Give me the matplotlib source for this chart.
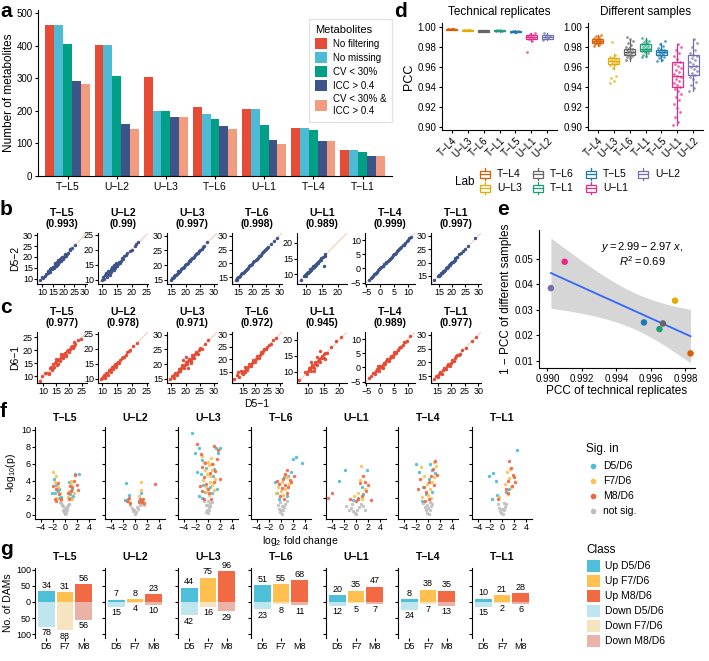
import numpy as np
import matplotlib
matplotlib.use("Agg")
import matplotlib.pyplot as plt
from matplotlib.patches import Rectangle, Patch
from matplotlib.lines import Line2D

plt.rcParams['font.family'] = ['Liberation Sans', 'DejaVu Sans']
plt.rcParams['mathtext.fontset'] = 'custom'
plt.rcParams['mathtext.rm'] = 'Liberation Sans'
plt.rcParams['mathtext.it'] = 'Liberation Sans:italic'
plt.rcParams['mathtext.bf'] = 'Liberation Sans:bold'
plt.rcParams['axes.unicode_minus'] = True

# ---------------- DATA ----------------
LABS = ['T−L5', 'U−L2', 'U−L3', 'T−L6', 'U−L1', 'T−L4', 'T−L1']

# panel a
A_NOFILTER = [462, 402, 304, 212, 204, 148, 79]
A_NOMISSING = [462, 402, 198, 190, 204, 147, 79]
A_CV30 = [405, 308, 198, 175, 157, 140, 73]
A_ICC = [292, 160, 180, 153, 110, 108, 60]
A_BOTH = [281, 144, 180, 145, 99, 108, 60]
A_LEGEND = ['No filtering', 'No missing', 'CV < 30%', 'ICC > 0.4', 'CV < 30% &\nICC > 0.4']

# panel b / c titles
B_PCC = ['0.993', '0.99', '0.997', '0.998', '0.989', '0.999', '0.997']
C_PCC = ['0.977', '0.978', '0.971', '0.972', '0.945', '0.989', '0.977']

B_TL5 = [(9.0, 9.2), (10.5, 10.3), (11.8, 12.3), (12.5, 12.6), (13.2, 13.0), (13.8, 14.4), (14.5, 14.2), (15.0, 15.5),
         (15.6, 15.2), (16.2, 16.6), (16.8, 16.4), (17.3, 17.8), (17.9, 17.5), (18.4, 18.9), (19.0, 18.6), (19.6, 19.9),
         (20.2, 20.1), (20.8, 21.2), (21.5, 21.3), (22.3, 22.0), (23.0, 23.3), (24.0, 24.2), (25.5, 25.6), (14.0, 14.8),
         (16.5, 16.0), (18.8, 19.4), (12.8, 13.6), (13.5, 12.9), (14.8, 15.3), (15.3, 14.7), (16.0, 16.9), (16.4, 15.7),
         (17.0, 17.5), (17.5, 16.9), (18.1, 18.7), (18.6, 18.0), (19.3, 19.8), (19.8, 19.2), (20.5, 21.0), (21.0, 20.4),
         (22.8, 23.5), (11.2, 11.0), (10.0, 10.5), (15.9, 17.4), (17.6, 18.5)]
B_UL2 = [(9.8, 9.9), (10.5, 10.2), (11.0, 11.6), (11.5, 11.0), (12.0, 12.8), (12.3, 12.0), (12.8, 13.5), (13.0, 12.6),
         (13.4, 14.2), (13.8, 13.2), (14.2, 14.0), (14.6, 15.4), (15.0, 14.6), (15.5, 16.0), (16.0, 15.6), (16.8, 17.2),
         (17.5, 17.8), (18.5, 19.0), (19.5, 19.6), (21.0, 21.2), (22.0, 22.4), (12.5, 11.6), (14.0, 15.0), (10.2, 10.8),
         (11.2, 12.3), (11.8, 11.9), (12.6, 13.0), (13.2, 13.1), (13.6, 13.8), (14.4, 14.9), (15.2, 15.1), (16.4, 16.3),
         (17.0, 16.8), (18.0, 18.3), (20.2, 20.0), (21.5, 22.0)]
B_UL3 = [(14.8, 15.0), (15.5, 15.4), (16.0, 16.3), (16.6, 16.5), (17.2, 17.3), (17.8, 17.7), (18.4, 18.5), (19.0, 19.1),
         (19.6, 19.5), (20.2, 20.4), (20.8, 20.7), (21.4, 21.5), (22.0, 22.1), (22.6, 22.5), (23.3, 23.4), (24.0, 24.0),
         (24.8, 24.9), (25.6, 25.5), (26.5, 26.6), (27.5, 27.8), (15.2, 15.6), (15.9, 15.8), (16.3, 16.7), (17.0, 16.8),
         (17.5, 17.9), (18.1, 18.0), (18.7, 19.0), (19.3, 19.2), (19.9, 20.1), (20.5, 20.4), (21.1, 21.3), (21.7, 21.6),
         (22.3, 22.5), (23.0, 22.9), (23.7, 23.8), (24.4, 24.3), (25.2, 25.3), (26.0, 26.1)]
B_TL6 = [(13.8, 13.9), (14.5, 14.6), (15.2, 15.0), (15.8, 16.0), (16.5, 16.4), (17.2, 17.3), (18.0, 17.9), (18.8, 18.9),
         (19.6, 19.5), (20.4, 20.5), (21.2, 21.1), (22.0, 22.1), (22.8, 22.8), (23.6, 23.7), (24.4, 24.3), (25.2, 25.3),
         (26.0, 26.0), (27.0, 27.1), (28.0, 28.0), (29.0, 29.2), (14.2, 14.1), (14.9, 15.1), (15.5, 15.4), (16.2, 16.4),
         (16.9, 16.8), (17.6, 17.7), (18.4, 18.3), (19.2, 19.3), (20.0, 19.9), (20.8, 20.9), (21.6, 21.5), (22.4, 22.5),
         (23.2, 23.1), (24.0, 24.1), (24.8, 24.7), (25.6, 25.7)]
B_UL1 = [(8.2, 8.4), (9.3, 9.5), (9.8, 9.6), (10.2, 10.4), (10.6, 10.5), (11.0, 11.2), (11.4, 11.3), (11.8, 12.0),
         (12.2, 12.0), (12.6, 12.8), (13.0, 12.9), (13.4, 13.6), (13.8, 13.5), (14.2, 14.4), (14.6, 14.5), (15.3, 15.4),
         (15.5, 12.6), (16.0, 16.3), (12.0, 12.5), (9.6, 9.9), (10.0, 10.1), (10.4, 10.7), (10.8, 10.9), (11.2, 11.6),
         (11.6, 11.7), (12.4, 12.3), (12.8, 13.1), (13.2, 13.3), (13.6, 14.0), (14.0, 14.1), (14.8, 15.1), (15.8, 15.9)]
B_TL4 = [(-4.0, -4.1), (-3.0, -3.0), (-2.2, -2.1), (-1.5, -1.6), (-0.8, -0.7), (0.0, 0.1), (0.8, 0.7), (1.5, 1.6),
         (2.2, 2.2), (3.0, 3.1), (3.8, 3.7), (4.5, 4.6), (5.3, 5.2), (6.0, 6.1), (6.8, 6.7), (7.6, 7.7), (8.5, 8.4),
         (9.5, 9.6), (10.5, 10.6), (11.2, 11.1), (-3.5, -3.4), (-2.6, -2.7), (-1.9, -1.8), (-1.1, -1.2), (-0.4, -0.3),
         (0.4, 0.5), (1.1, 1.0), (1.9, 2.0), (2.6, 2.5), (3.4, 3.5), (4.1, 4.0), (4.9, 5.0), (5.7, 5.6), (6.4, 6.5),
         (7.2, 7.1), (8.0, 8.1), (9.0, 8.9), (10.0, 10.1)]
B_TL1 = [(13.2, 13.4), (14.5, 14.8), (15.2, 15.0), (15.8, 16.0), (16.4, 16.6), (17.0, 16.8), (17.6, 17.9), (18.2, 18.0),
         (18.8, 19.1), (19.4, 19.2), (20.0, 20.3), (20.6, 20.5), (21.3, 21.6), (22.0, 22.0), (22.5, 23.2), (23.5, 23.4),
         (25.0, 25.1), (28.8, 29.0), (14.9, 15.2), (15.5, 15.5), (16.1, 16.2), (16.7, 16.9), (17.3, 17.3), (17.9, 18.2),
         (18.5, 18.5), (19.1, 19.4), (19.7, 19.7), (20.3, 20.2), (21.0, 21.1), (21.7, 21.9), (24.2, 24.4), (26.0, 26.1)]

C_TL5 = [(8.5, 8.3), (9.5, 10.0), (11.0, 11.5), (12.0, 11.4), (12.5, 13.2), (13.2, 12.6), (13.8, 14.6), (14.3, 13.6),
         (15.0, 15.8), (15.5, 14.8), (16.0, 16.8), (16.6, 15.9), (17.2, 17.8), (17.8, 17.0), (18.3, 19.0), (18.9, 18.2),
         (19.5, 20.2), (20.1, 19.4), (20.8, 21.3), (21.5, 20.8), (22.2, 22.5), (23.5, 23.8), (24.8, 24.5), (12.0, 11.0),
         (14.8, 16.5), (13.0, 13.8), (13.6, 13.2), (14.6, 15.1), (15.2, 14.5), (15.8, 16.2), (16.3, 16.3), (16.9, 17.3),
         (17.5, 17.4), (18.0, 18.6), (18.6, 18.5), (19.2, 19.7), (19.8, 19.8), (20.5, 20.6), (21.1, 21.6), (22.0, 21.8),
         (10.5, 11.2), (17.0, 18.4), (19.0, 17.9), (21.8, 23.0)]
C_UL2 = [(9.6, 9.8), (10.2, 10.6), (10.8, 10.2), (11.3, 12.0), (11.8, 11.2), (12.3, 12.9), (12.8, 12.2), (13.2, 13.8),
         (13.7, 13.1), (14.2, 14.7), (14.7, 14.0), (15.3, 15.6), (15.8, 15.2), (16.5, 16.8), (17.5, 17.3), (18.5, 18.8),
         (19.5, 19.4), (20.5, 20.8), (21.8, 22.0), (10.0, 10.1), (10.6, 11.1), (11.0, 10.8), (11.6, 11.7), (12.1, 12.4),
         (12.5, 12.6), (13.0, 13.3), (13.5, 13.5), (14.0, 14.2), (14.5, 14.4), (15.0, 15.2), (16.0, 16.2), (17.0, 17.1),
         (18.0, 17.9), (19.0, 19.3)]
C_UL3 = [(14.5, 15.0), (15.2, 15.8), (15.8, 15.2), (16.4, 17.0), (17.0, 16.4), (17.6, 18.3), (18.2, 17.5), (18.8, 19.6),
         (19.4, 18.8), (20.0, 20.8), (20.6, 19.9), (21.2, 21.9), (21.8, 21.0), (22.4, 23.0), (23.0, 22.2), (23.6, 24.0),
         (24.3, 23.6), (25.0, 25.4), (25.8, 25.3), (26.8, 27.0), (27.8, 28.2), (19.0, 21.5), (21.0, 18.5), (15.5, 15.4),
         (16.1, 16.2), (16.7, 16.6), (17.3, 17.4), (17.9, 17.8), (18.5, 18.6), (19.1, 19.1), (19.7, 19.8), (20.3, 20.3),
         (20.9, 21.0), (21.5, 21.4), (22.1, 22.2), (22.7, 22.6), (23.3, 23.5), (24.0, 23.8), (24.7, 24.8), (20.0, 22.3),
         (22.0, 20.2)]
C_TL6 = [(11.5, 12.2), (12.5, 13.8), (13.5, 13.0), (14.2, 15.2), (15.0, 14.3), (15.8, 16.8), (16.6, 15.9), (17.4, 18.3),
         (18.2, 17.4), (19.0, 19.8), (19.8, 19.0), (20.6, 21.4), (21.4, 20.6), (22.2, 22.9), (23.0, 22.4), (23.8, 24.2),
         (24.6, 24.0), (25.5, 25.9), (26.5, 26.2), (27.5, 27.8), (28.5, 28.4), (14.6, 14.7), (15.4, 15.5), (16.2, 16.3),
         (17.0, 17.1), (17.8, 17.8), (18.6, 18.7), (19.4, 19.4), (20.2, 20.2), (21.0, 21.0), (21.8, 21.9), (22.6, 22.6),
         (23.4, 23.4), (24.2, 24.3), (25.0, 25.0), (13.0, 15.0), (16.0, 14.8)]
C_UL1 = [(7.2, 7.4), (9.0, 9.8), (9.8, 9.2), (10.4, 11.2), (10.9, 10.3), (11.4, 12.3), (11.9, 11.1), (12.4, 13.2),
         (12.9, 12.1), (13.4, 14.0), (13.9, 13.2), (14.4, 15.0), (15.0, 14.2), (15.6, 16.0), (16.2, 15.8), (17.5, 17.8),
         (19.0, 19.6), (20.5, 21.0), (14.0, 16.5), (12.0, 10.2), (10.0, 10.3), (10.6, 10.8), (11.1, 11.6), (11.6, 11.5),
         (12.1, 12.4), (12.6, 12.6), (13.1, 13.5), (13.6, 13.4), (14.1, 14.5), (14.6, 14.3), (15.2, 15.6), (13.0, 14.8),
         (15.4, 13.9), (11.0, 13.0)]
C_TL4 = [(-4.0, -3.6), (-2.5, -2.0), (-1.8, -2.3), (-1.2, -0.6), (-0.6, -1.1), (0.0, 0.5), (0.6, 0.0), (1.2, 1.7),
         (1.8, 1.2), (2.4, 2.9), (3.0, 2.4), (3.7, 4.1), (4.4, 3.8), (5.1, 5.5), (5.8, 5.2), (6.6, 6.9), (7.5, 7.2),
         (8.5, 8.8), (9.6, 9.4), (10.8, 11.2), (-3.2, -3.0), (-2.1, -1.9), (-1.5, -1.4), (-0.9, -0.8), (-0.3, -0.2),
         (0.3, 0.3), (0.9, 0.8), (1.5, 1.5), (2.1, 2.1), (2.7, 2.6), (3.4, 3.4), (4.1, 4.2), (4.8, 4.7), (5.5, 5.6),
         (6.2, 6.1), (7.0, 7.1), (8.0, 8.0), (9.0, 9.1), (-1.0, 0.4), (1.0, -0.2)]
C_TL1 = [(13.5, 13.8), (14.5, 15.2), (15.2, 14.6), (15.9, 16.6), (16.6, 15.9), (17.3, 18.0), (18.0, 17.4), (18.7, 19.4),
         (19.4, 18.8), (20.2, 20.8), (21.0, 20.5), (21.8, 22.2), (22.8, 22.5), (24.0, 24.3), (25.5, 25.2), (27.5, 27.9),
         (29.0, 29.3), (14.8, 14.9), (15.5, 15.7), (16.2, 16.2), (16.9, 17.1), (17.6, 17.6), (18.3, 18.5), (19.0, 19.0),
         (19.8, 19.9), (20.6, 20.6), (21.4, 21.4), (22.3, 22.5), (23.3, 23.1)]

# panel d
D_ORDER = ['T−L4', 'U−L3', 'T−L6', 'T−L1', 'T−L5', 'U−L1', 'U−L2']
D_COLORS = ['#D95F02', '#E6AB02', '#666666', '#1B9E77', '#1F78B4', '#E7298A', '#7570B3']
# (whislo, q1, median, q3, whishi)
D_TECH_BOX = [(0.997, 0.9975, 0.998, 0.9985, 0.999), (0.996, 0.9965, 0.997, 0.9975, 0.998),
              (0.995, 0.9955, 0.996, 0.9968, 0.997), (0.9955, 0.996, 0.9965, 0.997, 0.9972),
              (0.994, 0.9948, 0.9955, 0.9962, 0.997), (0.986, 0.988, 0.990, 0.992, 0.994),
              (0.987, 0.988, 0.990, 0.9925, 0.9945)]
D_TECH_PTS = [[0.9976, 0.998, 0.9983, 0.9979, 0.9985],
              [0.9966, 0.997, 0.9973, 0.9969],
              [0.9956, 0.996, 0.9965, 0.9962],
              [0.9962, 0.9966, 0.9969, 0.9964],
              [0.9948, 0.9953, 0.9958, 0.9961, 0.995],
              [0.975, 0.986, 0.988, 0.989, 0.990, 0.991, 0.992, 0.993, 0.994],
              [0.987, 0.989, 0.990, 0.991, 0.9925, 0.9945]]
D_DIFF_BOX = [(0.981, 0.984, 0.986, 0.988, 0.992), (0.958, 0.963, 0.966, 0.969, 0.973),
              (0.966, 0.972, 0.975, 0.978, 0.987), (0.970, 0.976, 0.978, 0.983, 0.989),
              (0.966, 0.972, 0.975, 0.977, 0.984), (0.902, 0.940, 0.951, 0.965, 0.983),
              (0.936, 0.952, 0.961, 0.972, 0.988)]
D_DIFF_PTS = [[0.981, 0.982, 0.983, 0.984, 0.984, 0.985, 0.985, 0.986, 0.986, 0.987, 0.987, 0.988, 0.988, 0.989, 0.990, 0.991, 0.992],
              [0.944, 0.946, 0.949, 0.951, 0.959, 0.962, 0.963, 0.964, 0.965, 0.966, 0.967, 0.968, 0.969, 0.970, 0.972, 0.985],
              [0.967, 0.969, 0.970, 0.971, 0.972, 0.973, 0.974, 0.975, 0.975, 0.976, 0.977, 0.978, 0.979, 0.980, 0.982, 0.984, 0.986, 0.988, 0.990],
              [0.970, 0.971, 0.972, 0.974, 0.975, 0.976, 0.977, 0.977, 0.978, 0.979, 0.980, 0.981, 0.982, 0.983, 0.984, 0.985, 0.986, 0.987, 0.989],
              [0.966, 0.967, 0.969, 0.970, 0.971, 0.972, 0.973, 0.974, 0.975, 0.975, 0.976, 0.977, 0.978, 0.979, 0.981, 0.983, 0.986],
              [0.902, 0.905, 0.910, 0.915, 0.919, 0.923, 0.927, 0.930, 0.933, 0.936, 0.938, 0.940, 0.942, 0.944, 0.946, 0.948, 0.950,
               0.951, 0.953, 0.955, 0.957, 0.959, 0.961, 0.963, 0.965, 0.968, 0.971, 0.974, 0.977, 0.980, 0.983],
              [0.936, 0.939, 0.942, 0.945, 0.948, 0.950, 0.952, 0.954, 0.956, 0.958, 0.960, 0.961, 0.963, 0.965, 0.967, 0.969,
               0.971, 0.972, 0.974, 0.977, 0.980, 0.984, 0.988]]

# panel e  (order as D_ORDER)
E_TECH = [0.9983, 0.9974, 0.9967, 0.9965, 0.9956, 0.9910, 0.9902]
E_DIFF = [0.0130, 0.0336, 0.0247, 0.0225, 0.0251, 0.0488, 0.0385]

# panel f : (log2FC, -log10 p) per lab and class
F_TL5_D5 = [(-1.8, 4.2), (-1.5, 3.5), (-1.2, 2.8), (-1.6, 2.5), (-1.0, 3.0), (-0.9, 2.0), (0.8, 2.4), (1.1, 3.0), (1.3, 2.2),
            (2.3, 4.8), (1.6, 4.8), (-2.2, 2.6), (-0.7, 2.1), (0.6, 3.8), (0.9, 2.0)]
F_TL5_F7 = [(-2.0, 5.0), (-1.4, 4.6), (-1.7, 3.9), (-1.1, 3.3), (-0.8, 2.6), (-1.3, 2.0), (0.7, 2.8), (1.0, 3.6), (0.5, 2.1),
            (1.2, 1.8), (-0.6, 1.7), (0.9, 4.0), (1.5, 2.6)]
F_TL5_M8 = [(-1.9, 3.4), (-1.5, 3.0), (-1.2, 3.7), (-1.7, 1.9), (-1.0, 2.4), (-0.7, 1.8), (0.6, 1.9), (0.9, 2.8), (1.2, 3.3),
            (1.5, 4.0), (1.9, 3.5), (2.1, 2.9), (0.8, 3.4), (-1.4, 1.6), (1.7, 4.7), (0.5, 2.5)]
F_TL5_NS = [(-0.6, 1.4), (-0.4, 1.0), (-0.3, 0.6), (-0.1, 0.3), (0, 0.1), (0.1, 0.2), (0.3, 0.5), (0.4, 0.9), (0.6, 1.3),
            (-0.8, 1.5), (0.2, 0.8), (-0.2, 0.4), (0.0, 0.7), (-0.5, 1.2), (0.5, 1.1)]
F_UL2_D5 = [(-1.5, 3.7), (-1.2, 1.8), (-0.9, 2.3), (0.9, 2.6), (0.6, 1.6), (-1.7, 1.7), (1.1, 1.7)]
F_UL2_F7 = [(0.9, 3.8), (1.0, 2.9), (-1.0, 1.5), (0.7, 2.2), (1.2, 1.4)]
F_UL2_M8 = [(-1.3, 1.6), (-1.0, 2.0), (0.8, 1.9), (1.1, 1.5), (1.4, 1.4), (3.2, 3.6), (-0.8, 1.4), (0.6, 1.5), (1.3, 1.8)]
F_UL2_NS = [(-0.8, 1.2), (-0.5, 0.8), (-0.3, 0.4), (0, 0.1), (0.2, 0.3), (0.5, 0.7), (0.8, 1.1), (1.0, 1.3), (-0.1, 0.5),
            (0.3, 0.9), (1.5, 1.2)]
F_UL3_D5 = [(-2.6, 9.6), (-2.2, 7.2), (-1.5, 7.8), (-1.0, 6.4), (-1.2, 4.8), (-0.8, 3.5), (-0.5, 2.7), (-1.4, 2.2), (0.4, 3.2),
            (0.8, 4.6), (1.3, 7.8), (1.6, 7.2), (2.0, 7.8), (1.0, 5.4), (-0.3, 5.5), (-0.9, 2.0), (0.6, 2.5), (-1.8, 5.0),
            (1.5, 3.0)]
F_UL3_F7 = [(-1.0, 6.9), (-0.6, 6.2), (-0.2, 4.8), (0.2, 5.8), (0.5, 6.7), (0.7, 5.2), (0.3, 3.9), (-0.4, 3.2), (0.1, 2.3),
            (0.9, 2.9), (-0.8, 4.1), (0.0, 6.2), (0.4, 4.5), (-0.5, 5.2), (0.6, 3.5), (1.1, 4.2), (-0.3, 2.7), (0.8, 6.0)]
F_UL3_M8 = [(-1.8, 8.3), (-1.2, 7.1), (-0.9, 5.6), (-0.6, 4.4), (-0.3, 3.6), (0.0, 3.0), (0.4, 4.9), (0.7, 5.9), (1.0, 8.1),
            (1.4, 6.5), (1.2, 5.1), (0.9, 3.8), (-1.0, 2.8), (-0.7, 1.8), (0.5, 1.9), (-1.3, 3.4), (-0.5, 6.1), (1.7, 7.6),
            (0.2, 2.5), (1.9, 4.2)]
F_UL3_NS = [(-0.6, 1.6), (-0.4, 1.1), (-0.2, 0.6), (0, 0.2), (0.2, 0.5), (0.4, 1.0), (0.6, 1.5), (-0.1, 1.2), (0.1, 0.9),
            (0.3, 1.4), (-0.3, 0.3), (0.0, 1.6)]
F_TL6_D5 = [(2.0, 6.6), (2.4, 6.8), (3.4, 6.1), (-1.0, 3.8), (-0.6, 2.5), (0.5, 4.4), (1.2, 4.6), (-0.3, 1.8), (0.9, 2.2),
            (1.6, 5.0)]
F_TL6_F7 = [(-0.5, 3.3), (0.2, 3.9), (0.6, 3.0), (1.0, 4.4), (0.4, 2.3), (-0.8, 2.5), (1.3, 3.6), (0.0, 2.8), (0.8, 4.6)]
F_TL6_M8 = [(0.3, 4.2), (0.7, 3.5), (1.1, 3.2), (1.4, 4.1), (0.9, 2.6), (0.5, 1.9), (-0.7, 4.0), (-0.2, 2.2), (1.7, 3.9),
            (0.1, 3.1), (1.0, 5.2), (2.2, 4.6), (0.6, 4.8), (-0.4, 3.6)]
F_TL6_NS = [(-0.5, 1.2), (-0.3, 0.7), (-0.1, 0.3), (0.1, 0.1), (0.3, 0.5), (0.5, 0.9), (0.7, 1.3), (0.2, 1.0), (0.0, 0.6),
            (0.9, 1.6), (-0.2, 1.5)]
F_UL1_D5 = [(-1.8, 5.2), (-2.8, 4.0), (1.8, 5.2), (0.4, 2.0), (-0.5, 1.7), (1.2, 2.4), (0.9, 3.3)]
F_UL1_F7 = [(0.8, 5.7), (0.6, 4.1), (-0.4, 2.2), (1.0, 1.9), (1.4, 3.0), (0.3, 2.6)]
F_UL1_M8 = [(-4.6, 2.0), (-4.0, 2.6), (1.2, 4.6), (1.5, 3.9), (0.7, 3.7), (1.6, 2.8), (1.0, 2.2), (0.4, 1.8), (2.5, 1.7),
            (-1.0, 1.9), (1.9, 3.5), (0.0, 1.6)]
F_UL1_NS = [(-1.6, 1.0), (-1.2, 0.5), (-0.8, 0.8), (-0.5, 0.4), (-0.2, 0.2), (0, 0.1), (0.2, 0.5), (0.5, 0.9), (0.8, 1.3),
            (1.2, 1.0), (-0.6, 1.3), (1.5, 0.6)]
F_TL4_D5 = [(-2.0, 5.9), (-1.4, 5.0), (-0.8, 3.2), (0.2, 4.2), (0.7, 5.3), (1.2, 4.9), (-0.4, 2.4), (0.6, 2.7), (-1.0, 1.6),
            (0.4, 6.0)]
F_TL4_F7 = [(-1.2, 5.6), (-0.6, 4.6), (-0.2, 3.6), (0.3, 3.0), (0.6, 3.9), (1.0, 6.2), (0.9, 4.4), (0.0, 2.3), (-0.9, 2.1),
            (1.3, 5.7), (0.5, 2.0)]
F_TL4_M8 = [(-1.3, 4.2), (-0.7, 3.3), (-0.3, 2.7), (0.1, 3.9), (0.5, 4.6), (0.8, 5.4), (1.1, 6.3), (1.5, 4.7), (0.2, 1.8),
            (-0.5, 1.6), (0.9, 3.5), (-1.6, 3.0)]
F_TL4_NS = [(-0.8, 1.4), (-0.5, 0.9), (-0.3, 0.5), (-0.1, 0.2), (0.1, 0.1), (0.3, 0.6), (0.5, 1.0), (0.7, 1.3), (0.0, 0.8),
            (-0.2, 1.2), (0.4, 1.5)]
F_TL1_D5 = [(2.4, 7.6), (-1.4, 4.9), (-2.1, 4.6), (-1.0, 4.0), (-0.8, 2.3), (0.6, 2.7), (1.2, 3.0), (-1.6, 1.9)]
F_TL1_F7 = [(0.8, 5.0), (1.1, 4.3), (0.5, 3.6), (1.5, 3.2), (-0.5, 2.1), (0.9, 2.4), (1.3, 5.4)]
F_TL1_M8 = [(1.2, 6.3), (1.5, 5.5), (1.8, 4.7), (0.9, 4.0), (2.1, 3.9), (0.7, 3.0), (1.6, 3.4), (1.0, 2.6), (-0.6, 1.8),
            (2.0, 4.4)]
F_TL1_NS = [(-0.7, 1.3), (-0.5, 0.8), (-0.3, 0.4), (-0.1, 0.2), (0.1, 0.1), (0.3, 0.5), (0.5, 0.9), (0.7, 1.3), (0.0, 0.7),
            (0.4, 1.4)]
F_CLASSES = ['D5/D6', 'F7/D6', 'M8/D6', 'not sig.']

# panel g
G_GROUPS = ['D5', 'F7', 'M8']
G_UP = [[34, 31, 56], [7, 8, 23], [44, 75, 96], [51, 55, 68], [20, 35, 47], [8, 38, 35], [10, 21, 28]]
G_DOWN = [[78, 88, 56], [15, 4, 10], [42, 16, 29], [23, 8, 11], [12, 5, 7], [24, 7, 13], [15, 2, 6]]
G_CLASSES = ['Up D5/D6', 'Up F7/D6', 'Up M8/D6', 'Down D5/D6', 'Down F7/D6', 'Down M8/D6']

# ---------------- STYLE ----------------
W, H = 709, 661
fig = plt.figure(figsize=(W / 100, H / 100), dpi=100)


def add_ax(l, t, w, h):
    return fig.add_axes([l / W, 1 - (t + h) / H, w / W, h / H])


def classic(ax, fs=7):
    for s in ['top', 'right']:
        ax.spines[s].set_visible(False)
    for s in ['left', 'bottom']:
        ax.spines[s].set_linewidth(0.8)
    ax.tick_params(length=2.5, width=0.8, labelsize=fs, pad=1.5, colors='black')


def letter(x, y, s):
    fig.text(x / W, 1 - y / H, s, fontsize=15, fontweight='bold', va='top', ha='left')


# ---------------- PANEL a ----------------
ax = add_ax(38, 10, 354, 166)
classic(ax, 7.5)
A_COLORS = ['#E64B35', '#4DBBD5', '#00A087', '#3C5488', '#F39B7F']
series = [A_NOFILTER, A_NOMISSING, A_CV30, A_ICC, A_BOTH]
xa = np.arange(len(LABS))
bw = 0.9 / 5
for i, (vals, c) in enumerate(zip(series, A_COLORS)):
    ax.bar(xa - 0.45 + bw * (i + 0.5), vals, bw, color=c, linewidth=0)
ax.set_xlim(-0.6, 6.6)
ax.set_ylim(0, 509)
ax.set_yticks([0, 100, 200, 300, 400, 500])
ax.set_yticklabels(['0', '100', '200', '300', '400', '500'], fontsize=7)
ax.set_xticks(xa)
ax.set_xticklabels(LABS)
ax.set_ylabel('Number of metabolites', fontsize=8.5, labelpad=1)
handles = [Patch(facecolor=c, edgecolor='none') for c in A_COLORS]
lg = ax.legend(handles, A_LEGEND, title='Metabolites', loc='upper left',
               bbox_to_anchor=(304 / W, 1 - 14 / H), bbox_transform=fig.transFigure,
               fontsize=7, title_fontsize=8, frameon=True, fancybox=False, edgecolor='#DDDDDD',
               handlelength=1.3, handleheight=1.3, handletextpad=0.6, labelspacing=0.35, borderpad=0.6)
lg._legend_box.align = 'left'
letter(0, 2, 'a')

# ---------------- PANEL b / c ----------------
B_DATA = [B_TL5, B_UL2, B_UL3, B_TL6, B_UL1, B_TL4, B_TL1]
C_DATA = [C_TL5, C_UL2, C_UL3, C_TL6, C_UL1, C_TL4, C_TL1]
BC_LEFT = [37, 98, 167, 232, 297, 365, 431]
B_LIM = [(7.5, 31), (8.5, 25.5), (13.5, 31), (12.5, 31), (7, 23), (-5.5, 12.5), (12, 31)]
B_TICKS = [[10, 15, 20, 25, 30], [10, 15, 20, 25], [15, 20, 25, 30], [15, 20, 25, 30], [10, 15, 20], [-5, 0, 5, 10],
           [15, 20, 25, 30]]
C_LIM = [(7.5, 27), (8.5, 25.5), (13.5, 31), (10.5, 31), (6.5, 22.5), (-5.5, 12.5), (12.5, 31)]
C_TICKS = [[10, 15, 20, 25], [10, 15, 20, 25], [15, 20, 25, 30], [15, 20, 25, 30], [10, 15, 20], [-5, 0, 5, 10],
           [15, 20, 25, 30]]


def scatter_row(top, data, lims, ticks, pcc, color):
    axs = []
    for i in range(7):
        ax = add_ax(BC_LEFT[i], top, 50, 51)
        classic(ax, 6.5)
        ax.tick_params(length=2, pad=1)
        lo, hi = lims[i]
        ax.plot([lo, hi], [lo, hi], color='#F6C9BE', lw=0.8, zorder=1)
        xs = [p[0] for p in data[i]]
        ys = [p[1] for p in data[i]]
        ax.scatter(xs, ys, s=6, color=color, linewidths=0, zorder=2)
        ax.set_xlim(lo, hi)
        ax.set_ylim(lo, hi)
        ax.set_xticks(ticks[i])
        ax.set_yticks(ticks[i])
        ax.set_title(f'{LABS[i]}\n({pcc[i]})', fontsize=7.5, fontweight='bold', pad=4, linespacing=1.15)
        axs.append(ax)
    return axs


row = scatter_row(233, B_DATA, B_LIM, B_TICKS, B_PCC, '#3C5488')
row[0].set_ylabel('D5−2', fontsize=7.5, labelpad=2)
row = scatter_row(332, C_DATA, C_LIM, C_TICKS, C_PCC, '#E64B35')
row[0].set_ylabel('D6−1', fontsize=7.5, labelpad=2)
row[3].set_xlabel('D5−1', fontsize=7.5, labelpad=2)
letter(0, 200, 'b')
letter(0, 298, 'c')


# ---------------- PANEL d ----------------
def box_panel(ax, boxes, pts, title):
    classic(ax, 7)
    for i, (st, p, c) in enumerate(zip(boxes, pts, D_COLORS)):
        x = i + 1
        n = len(p)
        offs = [((k * 0.618) % 1.0 - 0.5) * 0.5 for k in range(n)]
        ax.scatter([x + o for o in offs], p, s=4, color=c, alpha=0.7, linewidths=0, zorder=2)
        stat = dict(whislo=st[0], q1=st[1], med=st[2], q3=st[3], whishi=st[4], fliers=[])
        ax.bxp([stat], positions=[x], widths=0.72, showfliers=False, patch_artist=True,
               boxprops=dict(facecolor='none', edgecolor=c, linewidth=0.9),
               medianprops=dict(color=c, linewidth=0.9), whiskerprops=dict(color=c, linewidth=0.9),
               capprops=dict(linewidth=0), manage_ticks=False, zorder=3)
    ax.set_xlim(0.4, 7.6)
    ax.set_ylim(0.897, 1.004)
    ax.set_yticks([0.90, 0.92, 0.94, 0.96, 0.98, 1.00])
    ax.set_yticklabels(['0.90', '0.92', '0.94', '0.96', '0.98', '1.00'])
    ax.set_xticks(range(1, 8))
    ax.set_xticklabels(D_ORDER, rotation=45, ha='right', rotation_mode='anchor')
    ax.set_title(title, fontsize=8.5, pad=6)


axd1 = add_ax(442, 23, 115, 107)
box_panel(axd1, D_TECH_BOX, D_TECH_PTS, 'Technical replicates')
axd1.set_ylabel('PCC', fontsize=9, labelpad=2)
axd2 = add_ax(588, 23, 115, 107)
box_panel(axd2, D_DIFF_BOX, D_DIFF_PTS, 'Different samples')
letter(394, 2, 'd')

# Lab legend
axl = add_ax(455, 163, 254, 35)
axl.set_xlim(0, 254)
axl.set_ylim(35, 0)
axl.axis('off')
axl.text(0, 19, 'Lab', fontsize=8.5, va='center', ha='left')
LEG_POS = [(30, 11), (30, 25), (83, 11), (83, 25), (136, 11), (136, 25), (188, 11)]
LEG_LAB = ['T−L4', 'U−L3', 'T−L6', 'T−L1', 'T−L5', 'U−L1', 'U−L2']
for (px, py), lab in zip(LEG_POS, LEG_LAB):
    c = D_COLORS[D_ORDER.index(lab)]
    axl.add_patch(Rectangle((px - 5, py - 3.5), 10, 7, facecolor='none', edgecolor=c, lw=0.9))
    axl.plot([px - 5, px + 5], [py, py], color=c, lw=0.9)
    axl.plot([px, px], [py - 6, py - 3.5], color=c, lw=0.9)
    axl.plot([px, px], [py + 3.5, py + 6], color=c, lw=0.9)
    axl.text(px + 12, py, lab, fontsize=7.5, va='center', ha='left')

# ---------------- PANEL e ----------------
axe = add_ax(539, 230, 156, 138)
classic(axe, 7)
ex = np.array(E_TECH)
ey = np.array(E_DIFF)
b1, b0 = np.polyfit(ex, ey, 1)
xx = np.linspace(ex.min(), ex.max(), 100)
yy = b0 + b1 * xx
n = len(ex)
resid = ey - (b0 + b1 * ex)
s = np.sqrt(np.sum(resid ** 2) / (n - 2))
se = s * np.sqrt(1 / n + (xx - ex.mean()) ** 2 / np.sum((ex - ex.mean()) ** 2))
T975 = 2.571
axe.fill_between(xx, yy - T975 * se, yy + T975 * se, color='#CCCCCC', alpha=0.8, linewidth=0, zorder=1)
axe.plot(xx, yy, color='#3366FF', lw=1.3, zorder=2)
axe.scatter(ex, ey, s=22, c=D_COLORS, linewidths=0, zorder=3)
axe.set_xlim(0.98951, 0.99856)
axe.set_ylim(0.0073, 0.0612)
axe.set_xticks([0.990, 0.992, 0.994, 0.996, 0.998])
axe.set_xticklabels(['0.990', '0.992', '0.994', '0.996', '0.998'])
axe.set_yticks([0.01, 0.02, 0.03, 0.04, 0.05])
axe.set_yticklabels(['0.01', '0.02', '0.03', '0.04', '0.05'])
axe.set_xlabel('PCC of technical replicates', fontsize=8.5, labelpad=1)
axe.set_ylabel('1 − PCC of different samples', fontsize=8.5, labelpad=2)
axe.text(0.9955, 0.0545, r'$y = 2.99 - 2.97\ x,$', fontsize=8, ha='center', va='center')
axe.text(0.9955, 0.0490, r'$R^2 = 0.69$', fontsize=8, ha='center', va='center')
letter(497, 200, 'e')

# ---------------- PANEL f ----------------
F_DATA = [[F_TL5_D5, F_TL5_F7, F_TL5_M8, F_TL5_NS], [F_UL2_D5, F_UL2_F7, F_UL2_M8, F_UL2_NS],
          [F_UL3_D5, F_UL3_F7, F_UL3_M8, F_UL3_NS], [F_TL6_D5, F_TL6_F7, F_TL6_M8, F_TL6_NS],
          [F_UL1_D5, F_UL1_F7, F_UL1_M8, F_UL1_NS], [F_TL4_D5, F_TL4_F7, F_TL4_M8, F_TL4_NS],
          [F_TL1_D5, F_TL1_F7, F_TL1_M8, F_TL1_NS]]
F_COLORS = ['#4DBBD5', '#FFC04D', '#F0643F', '#BEBEBE']
FG_LEFT = [35, 105, 178, 251, 326, 398, 472]
for i in range(7):
    ax = add_ax(FG_LEFT[i], 427, 60, 92)
    classic(ax, 6.5)
    ax.tick_params(length=2, pad=1)
    for cls in [3, 0, 1, 2]:
        pts = F_DATA[i][cls]
        ax.scatter([p[0] for p in pts], [p[1] for p in pts], s=6, color=F_COLORS[cls], linewidths=0,
                   alpha=0.9, zorder=2 + (cls != 3))
    ax.set_xlim(-4.9, 4.9)
    ax.set_ylim(-0.5, 10.3)
    ax.set_xticks([-4, -2, 0, 2, 4])
    ax.set_yticks([0, 2, 4, 6, 8, 10])
    if i > 0:
        ax.set_yticklabels([])
    else:
        ax.set_ylabel(r'-log$_{10}$(p)', fontsize=7.5, labelpad=2)
    ax.set_title(LABS[i], fontsize=7.5, fontweight='bold', pad=4)
fig.text(300 / W, 1 - 541 / H, r'log$_2$ fold change', fontsize=7.5, ha='center', va='center')
letter(0, 402, 'f')
# f legend
fig.text(586 / W, 1 - 449 / H, 'Sig. in', fontsize=8.5, ha='left', va='center')
for k, (lab, c) in enumerate(zip(F_CLASSES, F_COLORS)):
    y = 466 + 15 * k
    fig.add_artist(Line2D([593 / W], [1 - y / H], marker='o', markersize=3, color=c, linestyle='none'))
    fig.text(603 / W, 1 - y / H, lab, fontsize=7.5, ha='left', va='center')

# ---------------- PANEL g ----------------
G_UP_COL = ['#4EBFD8', '#FFC04F', '#F26A44']
G_DN_COL = ['#BFE6EF', '#F6E3C0', '#EBB3A7']
for i in range(7):
    ax = add_ax(FG_LEFT[i], 568, 60, 70)
    classic(ax, 6.5)
    ax.spines['bottom'].set_visible(False)
    ax.tick_params(length=2, pad=1)
    xg = np.arange(1, 4)
    ax.bar(xg, G_UP[i], 0.9, color=G_UP_COL, linewidth=0)
    ax.bar(xg, [-v for v in G_DOWN[i]], 0.9, color=G_DN_COL, linewidth=0)
    for x, u, d in zip(xg, G_UP[i], G_DOWN[i]):
        ax.text(x, u + 4, str(u), fontsize=6.5, ha='center', va='bottom')
        ax.text(x, -d - 4, str(d), fontsize=6.5, ha='center', va='top')
    ax.set_xlim(0.4, 3.6)
    ax.set_ylim(-112, 105)
    ax.set_xticks(xg)
    ax.set_xticklabels(G_GROUPS)
    ax.set_yticks([-100, -50, 0, 50, 100])
    if i == 0:
        ax.set_yticklabels(['100', '50', '0', '50', '100'])
        ax.set_ylabel('No. of DAMs', fontsize=7.5, labelpad=2)
    else:
        ax.set_yticklabels([])
    ax.set_title(LABS[i], fontsize=7.5, fontweight='bold', pad=6)
letter(0, 540, 'g')
fig.text(586 / W, 1 - 550 / H, 'Class', fontsize=8.5, ha='left', va='center')
for k, (lab, c) in enumerate(zip(G_CLASSES, G_UP_COL + G_DN_COL)):
    y = 566 + 15 * k
    fig.add_artist(Rectangle((587 / W, 1 - (y + 6) / H), 13 / W, 12 / H, facecolor=c, edgecolor='none'))
    fig.text(605 / W, 1 - y / H, lab, fontsize=7.5, ha='left', va='center')

fig.savefig('out.png', dpi=100)
